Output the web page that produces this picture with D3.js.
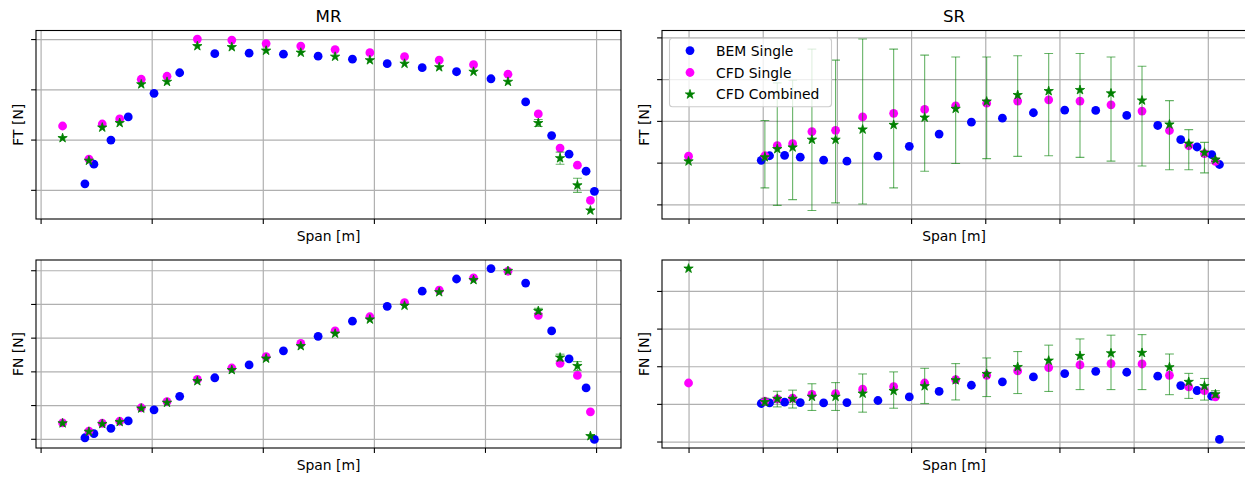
<!DOCTYPE html>
<html>
<head>
<meta charset="utf-8">
<script src="https://cdn.jsdelivr.net/npm/d3@7"></script>
<style>
  body { margin: 0; background: #fff; }
  svg text { font-family: "DejaVu Sans", sans-serif; fill: #000; }
</style>
</head>
<body>
<svg id="fig" width="1245" height="477"></svg>
<script>
// ---- Main rotor (MR) ----
const mrSpanTicks = [0, 1, 2, 3, 4, 5];
const mrFtTicks = [100, 200, 300, 400];
const mrFnTicks = [0, 100, 200, 300, 400, 500];

const mrSpanBem = [0.399, 0.480, 0.633, 0.789, 1.021, 1.252, 1.568, 1.877, 2.186, 2.498,
                   2.807, 3.120, 3.435, 3.744, 4.054, 4.366, 4.600, 4.757, 4.910, 4.985];
const mrSpanCfd = [0.198, 0.435, 0.555, 0.712, 0.906, 1.138, 1.411, 1.721, 2.030, 2.342,
                   2.651, 2.964, 3.276, 3.588, 3.897, 4.207, 4.480, 4.676, 4.832, 4.949];

const mrFtBem  = [112, 151, 199, 245, 292, 333, 371, 372, 370, 366, 360, 351, 343, 335, 321, 275, 208, 171, 137, 97];
const mrFtCfd  = [227, 161, 231, 241, 320, 326, 400, 398, 391, 386, 379, 373, 365, 358, 349, 330, 251, 183, 149, 79];
const mrFtComb = [203, 158, 224, 233, 310, 315, 386, 384, 377, 373, 365, 358, 351, 344, 335, 315, 233, 163, 109, 59];
const mrFtErr  = [0, 0, 0, 0, 0, 0, 0, 0, 0, 0, 0, 0, 0, 0, 0, 0, 7, 12, 14, 0];

const mrFnBem  = [3, 15, 31, 53, 86, 126, 181, 219, 261, 304, 349, 393, 438, 474, 505, 462, 320, 237, 151, -2];
const mrFnCfd  = [47, 23, 46, 52, 92, 110, 176, 210, 244, 283, 320, 362, 404, 441, 477, 497, 366, 224, 188, 80];
const mrFnComb = [46, 21, 44, 50, 90, 107, 171, 204, 238, 275, 312, 354, 395, 435, 471, 498, 379, 241, 216, 8];
const mrFnErr  = [0, 0, 0, 0, 0, 0, 0, 0, 0, 0, 0, 0, 0, 0, 0, 0, 8, 10, 13, 0];

// ---- Secondary rotor (SR) ----
const srSpanTicks = [0, 1, 2, 3, 4, 5, 6, 7];
const srFtTicks = [0, 20, 40, 60, 80];
const srFnTicks = [0, 20, 40, 60, 80];

const srSpanBem = [0.980, 1.092, 1.295, 1.506, 1.821, 2.135, 2.553, 2.976, 3.378, 3.813,
                   4.231, 4.649, 5.071, 5.489, 5.907, 6.325, 6.635, 6.855, 7.053, 7.157];
const srSpanCfd = [0.000, 1.029, 1.196, 1.403, 1.663, 1.982, 2.347, 2.765, 3.183, 3.601,
                   4.019, 4.437, 4.855, 5.277, 5.695, 6.113, 6.483, 6.743, 6.955, 7.103];

const srFtBem  = [21.1, 23.3, 23.5, 22.6, 21.2, 20.7, 23.1, 27.8, 33.7, 39.4, 41.3, 43.9, 45.2, 45.0, 42.6, 37.8, 31.0, 27.5, 23.8, 19.1];
const srFtCfd  = [23.1, 23.3, 28.1, 29.1, 34.9, 35.5, 41.9, 43.6, 45.5, 47.2, 48.5, 49.5, 50.1, 49.5, 47.7, 44.7, 35.4, 28.1, 24.3, 20.6];
const srFtComb = [20.6, 22.6, 26.5, 27.3, 31.0, 31.0, 35.9, 38.1, 41.6, 45.8, 49.3, 52.4, 54.3, 54.8, 53.2, 49.8, 38.3, 29.1, 24.8, 21.4];
const srFtLow  = [null, 7.9, -0.5, 2.3, -2.9, 0.7, 0.2, 7.9, 15.9, 19.6, 21.9, 23.0, 23.3, 22.5, 20.7, 18.4, 16.6, 16.6, 15.1, 20.6];
const srFtHigh = [null, 40.2, 58.2, 59.5, 74.4, 69.1, 79.2, 74.4, 71.5, 70.6, 70.6, 71.2, 72.3, 72.3, 70.6, 66.2, 49.7, 35.8, 29.7, 22.2];

const srFnBem  = [20.2, 20.5, 20.9, 20.7, 20.5, 20.7, 21.8, 23.7, 26.6, 29.9, 31.7, 34.3, 36.1, 37.3, 36.8, 34.7, 29.7, 27.1, 24.1, 1.1];
const srFnCfd  = [31.1, 21.4, 22.6, 23.0, 25.0, 25.5, 27.8, 29.2, 31.1, 32.9, 35.2, 37.5, 39.3, 40.7, 41.4, 41.2, 35.2, 29.0, 27.1, 23.7];
const srFnComb = [91.9, 21.0, 22.7, 22.7, 23.8, 23.8, 25.5, 26.9, 29.4, 32.6, 35.9, 39.6, 43.0, 45.5, 46.9, 47.1, 39.5, 31.7, 29.5, 25.1];
const srFnLow  = [null, 19.3, 18.4, 17.8, 16.5, 16.5, 15.6, 17.7, 20.2, 22.1, 23.9, 25.5, 26.6, 27.6, 27.6, 27.6, 24.9, 22.9, 22.0, 23.5];
const srFnHigh = [null, 23.0, 26.7, 27.3, 30.7, 31.3, 35.9, 37.0, 38.9, 41.4, 44.4, 47.8, 51.2, 54.5, 56.5, 56.8, 46.5, 36.2, 33.5, 27.0];

const seriesNames = ["BEM Single", "CFD Single", "CFD Combined"];
const seriesColors = ["#0000ff", "#ff00ff", "#008000"];

// ---- helpers ----
const svg = d3.select("#fig");
const FONT = 13.9;
const dotR = 4.4;
const starSym = d3.symbol().type(d3.symbolStar).size(27);

// autoscale with a 5% margin on each side
function padded(values) {
  const [a, b] = d3.extent(values.filter(v => v != null));
  const m = (b - a) * 0.05;
  return [a - m, b + m];
}

function symmetricBars(x, y, err) {
  return x.map((xv, i) => err[i] > 0 ? {x: xv, lo: y[i] - err[i], hi: y[i] + err[i]} : null).filter(Boolean);
}
function boundedBars(x, lo, hi) {
  return x.map((xv, i) => lo[i] != null ? {x: xv, lo: lo[i], hi: hi[i]} : null).filter(Boolean);
}

let clipId = 0;
function drawPanel(p) {
  const {box} = p;
  const bars = p.bars;
  const xVals = p.bemX.concat(p.cfdX);
  const yVals = p.bem.concat(p.cfd, p.comb, bars.map(b => b.lo), bars.map(b => b.hi));
  const x = d3.scaleLinear().domain(padded(xVals)).range([box.x0, box.x1]);
  const y = d3.scaleLinear().domain(padded(yVals)).range([box.y1, box.y0]);
  const h = box.y1 - box.y0, w = box.x1 - box.x0;

  const g = svg.append("g");
  const id = "clip" + (clipId++);
  g.append("clipPath").attr("id", id).append("rect")
    .attr("x", box.x0).attr("y", box.y0).attr("width", w).attr("height", h);

  // grid
  const grid = g.append("g").attr("class", "grid");
  grid.append("g").attr("transform", `translate(0,${box.y1})`)
    .call(d3.axisBottom(x).tickValues(p.xTicks).tickSize(-h).tickFormat(() => ""))
    .call(s => s.select(".domain").remove());
  grid.append("g").attr("transform", `translate(${box.x0},0)`)
    .call(d3.axisLeft(y).tickValues(p.yTicks).tickSize(-w).tickFormat(() => ""))
    .call(s => s.select(".domain").remove());
  grid.selectAll("line").attr("stroke", "#b0b0b0").attr("stroke-width", 1.2);

  const plot = g.append("g").attr("clip-path", `url(#${id})`);

  // BEM single
  plot.append("g").selectAll("circle").data(p.bemX).join("circle")
    .attr("cx", (d) => x(d)).attr("cy", (d, i) => y(p.bem[i])).attr("r", dotR)
    .attr("fill", seriesColors[0]);
  // CFD single
  plot.append("g").selectAll("circle").data(p.cfdX).join("circle")
    .attr("cx", (d) => x(d)).attr("cy", (d, i) => y(p.cfd[i])).attr("r", dotR)
    .attr("fill", seriesColors[1]);
  // CFD combined: error bars with caps, then stars
  const eb = plot.append("g").attr("stroke", seriesColors[2]).attr("stroke-opacity", 0.6).attr("stroke-width", 1.1);
  eb.selectAll("line.v").data(bars).join("line").attr("class", "v")
    .attr("x1", d => x(d.x)).attr("x2", d => x(d.x)).attr("y1", d => y(d.lo)).attr("y2", d => y(d.hi));
  const cap = 4.4;
  eb.selectAll("line.lo").data(bars).join("line").attr("class", "lo")
    .attr("x1", d => x(d.x) - cap).attr("x2", d => x(d.x) + cap).attr("y1", d => y(d.lo)).attr("y2", d => y(d.lo));
  eb.selectAll("line.hi").data(bars).join("line").attr("class", "hi")
    .attr("x1", d => x(d.x) - cap).attr("x2", d => x(d.x) + cap).attr("y1", d => y(d.hi)).attr("y2", d => y(d.hi));
  plot.append("g").selectAll("path").data(p.cfdX).join("path")
    .attr("d", starSym)
    .attr("transform", (d, i) => `translate(${x(d)},${y(p.comb[i])})`)
    .attr("fill", seriesColors[2]).attr("stroke", seriesColors[2]).attr("stroke-width", 0.8);

  // ticks
  const ax = g.append("g").attr("transform", `translate(0,${box.y1})`)
    .call(d3.axisBottom(x).tickValues(p.xTicks).tickSize(4.9).tickFormat(() => ""));
  const ay = g.append("g").attr("transform", `translate(${box.x0},0)`)
    .call(d3.axisLeft(y).tickValues(p.yTicks).tickSize(4.9).tickFormat(() => ""));
  [ax, ay].forEach(a => {
    a.select(".domain").remove();
    a.selectAll("line").attr("stroke", "#000").attr("stroke-width", 1.1);
  });

  // spines
  g.append("rect").attr("x", box.x0).attr("y", box.y0).attr("width", w).attr("height", h)
    .attr("fill", "none").attr("stroke", "#000").attr("stroke-width", 1.1);

  // labels
  const cx = (box.x0 + box.x1) / 2, cy = (box.y0 + box.y1) / 2;
  g.append("text").attr("x", cx).attr("y", box.y1 + 22).attr("text-anchor", "middle")
    .attr("font-size", FONT).text(p.xLabel);
  g.append("text").attr("transform", `translate(${box.x0 - 13.5},${cy}) rotate(-90)`)
    .attr("text-anchor", "middle").attr("font-size", FONT).text(p.yLabel);
  if (p.title) {
    g.append("text").attr("x", cx).attr("y", box.y0 - 8.5).attr("text-anchor", "middle")
      .attr("font-size", 16.7).text(p.title);
  }

  if (p.legend) {
    const lg = g.append("g").attr("transform", `translate(${box.x0 + 7.5},${box.y0 + 7.8})`);
    lg.append("rect").attr("x", 0).attr("y", 0).attr("width", 162).attr("height", 68.5)
      .attr("rx", 3).attr("fill", "#fff").attr("fill-opacity", 0.8)
      .attr("stroke", "#cccccc").attr("stroke-width", 1.1);
    const rows = lg.selectAll("g.row").data(seriesNames).join("g").attr("class", "row")
      .attr("transform", (d, i) => `translate(0,${12.3 + i * 21.9})`);
    rows.each(function (d, i) {
      const r = d3.select(this);
      if (i < 2) r.append("circle").attr("cx", 20.5).attr("cy", 0).attr("r", dotR).attr("fill", seriesColors[i]);
      else r.append("path").attr("d", starSym).attr("transform", "translate(20.5,0)")
        .attr("fill", seriesColors[2]).attr("stroke", seriesColors[2]).attr("stroke-width", 0.8);
      r.append("text").attr("x", 46.5).attr("y", 5).attr("font-size", FONT).text(d);
    });
  }
}

const leftX = [36, 621], rightX = [662, 1246];
const topY = [30.5, 219], botY = [260, 448];

drawPanel({
  box: {x0: leftX[0], x1: leftX[1], y0: topY[0], y1: topY[1]},
  title: "MR", xLabel: "Span [m]", yLabel: "FT [N]",
  xTicks: mrSpanTicks, yTicks: mrFtTicks,
  bemX: mrSpanBem, cfdX: mrSpanCfd, bem: mrFtBem, cfd: mrFtCfd, comb: mrFtComb,
  bars: symmetricBars(mrSpanCfd, mrFtComb, mrFtErr)
});
drawPanel({
  box: {x0: leftX[0], x1: leftX[1], y0: botY[0], y1: botY[1]},
  xLabel: "Span [m]", yLabel: "FN [N]",
  xTicks: mrSpanTicks, yTicks: mrFnTicks,
  bemX: mrSpanBem, cfdX: mrSpanCfd, bem: mrFnBem, cfd: mrFnCfd, comb: mrFnComb,
  bars: symmetricBars(mrSpanCfd, mrFnComb, mrFnErr)
});
drawPanel({
  box: {x0: rightX[0], x1: rightX[1], y0: topY[0], y1: topY[1]},
  title: "SR", xLabel: "Span [m]", yLabel: "FT [N]",
  xTicks: srSpanTicks, yTicks: srFtTicks,
  bemX: srSpanBem, cfdX: srSpanCfd, bem: srFtBem, cfd: srFtCfd, comb: srFtComb,
  bars: boundedBars(srSpanCfd, srFtLow, srFtHigh),
  legend: true
});
drawPanel({
  box: {x0: rightX[0], x1: rightX[1], y0: botY[0], y1: botY[1]},
  xLabel: "Span [m]", yLabel: "FN [N]",
  xTicks: srSpanTicks, yTicks: srFnTicks,
  bemX: srSpanBem, cfdX: srSpanCfd, bem: srFnBem, cfd: srFnCfd, comb: srFnComb,
  bars: boundedBars(srSpanCfd, srFnLow, srFnHigh)
});
</script>
</body>
</html>
